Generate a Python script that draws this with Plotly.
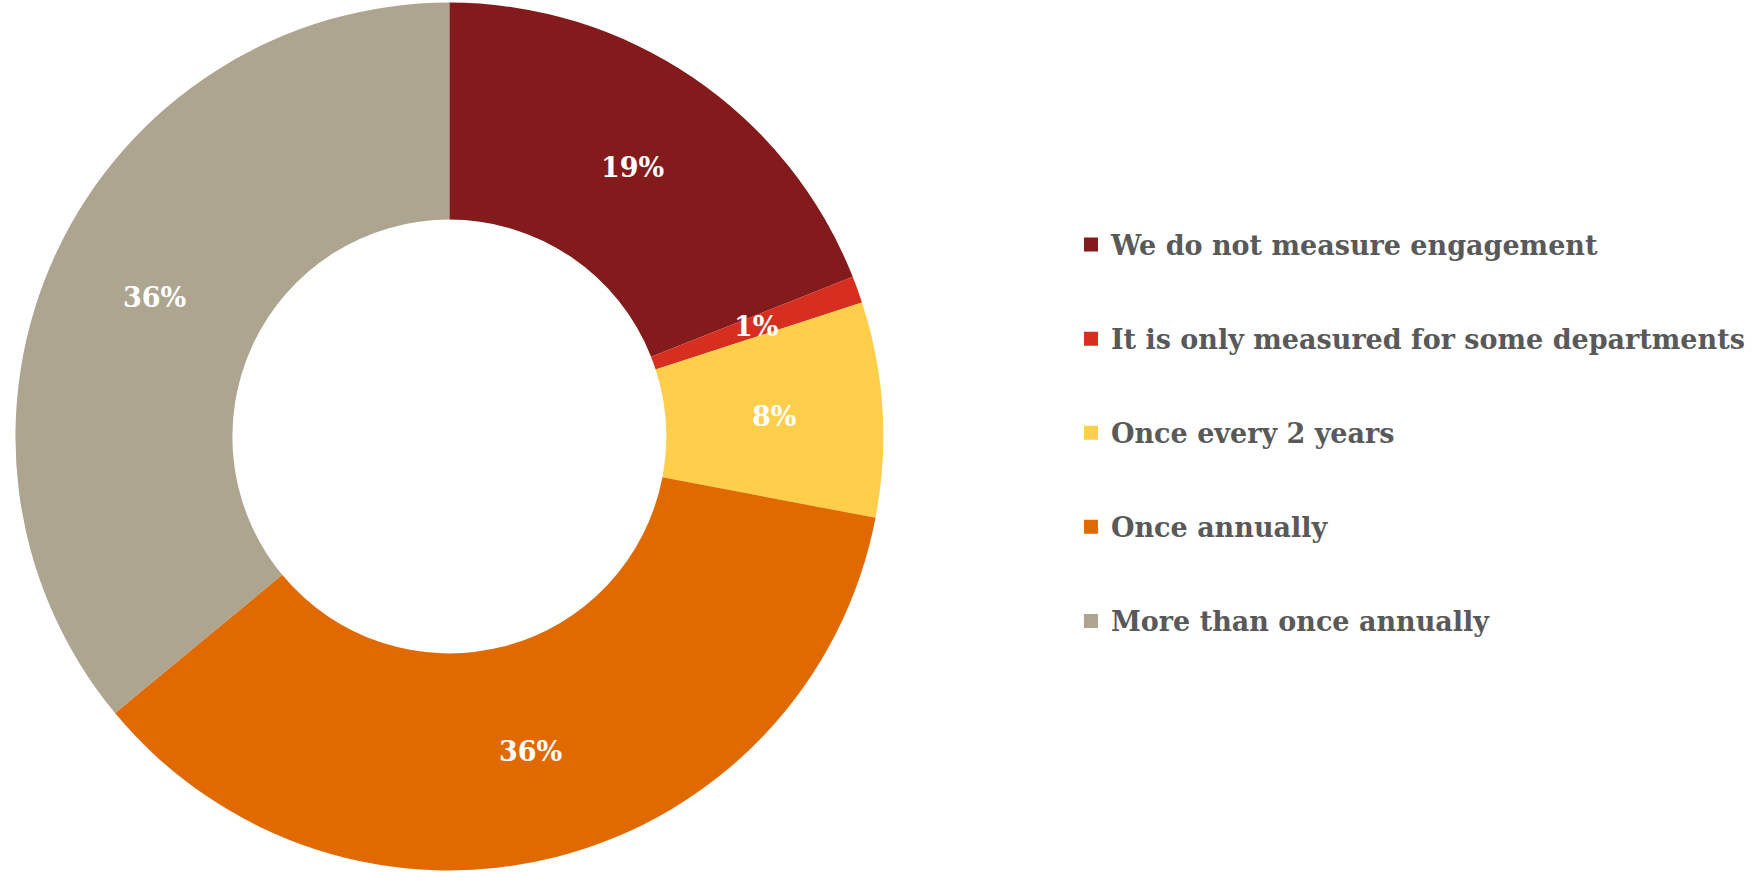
import math
import plotly.graph_objects as go

# Survey: how often employee engagement is measured
categories = [
    "We do not measure engagement",
    "It is only measured for some departments",
    "Once every 2 years",
    "Once annually",
    "More than once annually",
]
shares = [19, 1, 8, 36, 36]
colors = ["#831A1B", "#D62F1F", "#FFCF4B", "#E16A00", "#ADA590"]

SERIF = "Georgia, 'DejaVu Serif', serif"
W, H = 1760, 873
HOLE = 0.5
dom_x = [0.0073, 0.5033]
dom_y = [0.003, 0.997]

fig = go.Figure()

fig.add_trace(go.Pie(
    labels=categories,
    values=shares,
    hole=HOLE,
    sort=False,
    direction="clockwise",
    rotation=0,
    marker=dict(colors=colors, line=dict(width=0)),
    textinfo="none",
    domain=dict(x=dom_x, y=dom_y),
    showlegend=False,
    hovertemplate="%{label}: %{value}%<extra></extra>",
))

# Percentage labels, centred in the ring at each slice's mid-angle
cx = (dom_x[0] + dom_x[1]) / 2 * W
cy = (1 - (dom_y[0] + dom_y[1]) / 2) * H
radius = min((dom_x[1] - dom_x[0]) * W, (dom_y[1] - dom_y[0]) * H) / 2
r_mid = radius * (1 + HOLE) / 2
total = sum(shares)
cum = 0
for v in shares:
    theta = 2 * math.pi * (cum + v / 2) / total
    cum += v
    px = cx + r_mid * math.sin(theta)
    py = cy - r_mid * math.cos(theta)
    fig.add_annotation(
        x=px / W, y=1 - py / H, xref="paper", yref="paper",
        text=f"{v}%", showarrow=False,
        xanchor="center", yanchor="middle",
        font=dict(family=SERIF, size=27, color="white", weight="bold"),
    )

# Legend entries, one group per category so the rows can be spaced apart
for name, col in zip(categories, colors):
    fig.add_trace(go.Scatter(
        x=[None], y=[None],
        mode="markers",
        marker=dict(symbol="square", size=14, color=col),
        name=name,
        legendgroup=name,
        showlegend=True,
        hoverinfo="skip",
    ))

fig.update_layout(
    width=W,
    height=H,
    margin=dict(l=0, r=0, t=0, b=0),
    paper_bgcolor="white",
    plot_bgcolor="white",
    xaxis=dict(visible=False),
    yaxis=dict(visible=False),
    legend=dict(
        x=0.6085,
        y=0.504,
        xanchor="left",
        yanchor="middle",
        font=dict(family=SERIF, size=27, color="#595959", weight="bold"),
        tracegroupgap=56,
        itemwidth=30,
        bgcolor="rgba(0,0,0,0)",
    ),
)

fig.write_html("out.html")
